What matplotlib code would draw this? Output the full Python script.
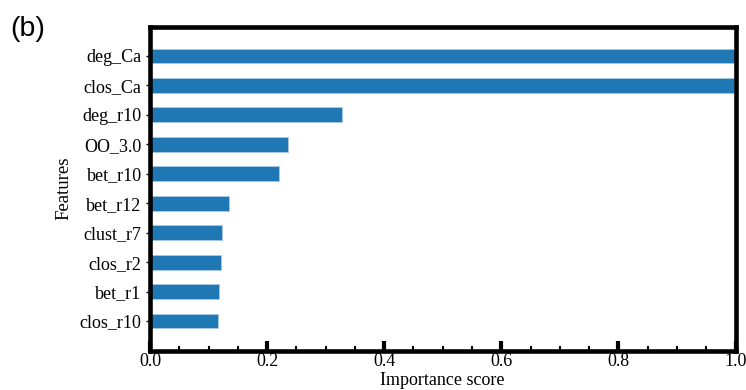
import matplotlib
matplotlib.use('Agg')
import matplotlib.pyplot as plt
import numpy as np
from matplotlib.ticker import MultipleLocator

plt.rcParams['font.family'] = 'Liberation Serif'
plt.rcParams['font.size'] = 13

# features listed top to bottom
features = ['deg_Ca', 'clos_Ca', 'deg_r10', 'OO_3.0', 'bet_r10',
            'bet_r12', 'clust_r7', 'clos_r2', 'bet_r1', 'clos_r10']
scores = [1.0, 0.998, 0.328, 0.236, 0.220, 0.135, 0.123, 0.121, 0.118, 0.116]

fig = plt.figure(figsize=(7.46, 3.9), dpi=100)
ax = fig.add_axes([150/746, 1 - 350.5/390, 585.5/746, 324/390])

ypos = np.arange(len(features))[::-1]
ax.barh(ypos, scores, height=0.5, color='#1f77b4', edgecolor='#a9cbe6', linewidth=0.6)

ax.set_xlim(0, 1.0)
ax.set_ylim(-1, len(features))
ax.set_yticks(ypos)
ax.set_yticklabels(features)
ax.xaxis.set_major_locator(MultipleLocator(0.2))
ax.xaxis.set_minor_locator(MultipleLocator(0.05))

for sp in ax.spines.values():
    sp.set_linewidth(3.3)

ax.tick_params(axis='x', which='major', direction='in', length=7.5, width=3, pad=1.5, labelsize=13)
ax.tick_params(axis='x', which='minor', direction='in', length=3.8, width=1.5)
ax.tick_params(axis='y', which='major', direction='out', length=3, width=1, pad=3, labelsize=13)

ax.set_xlabel('Importance score', fontsize=13, labelpad=2)
ax.set_ylabel('Features', fontsize=13.5, labelpad=5)

fig.text(0.014, 1 - 28.5/390, '(b)', fontsize=20.5, family='Liberation Sans', va='center', ha='left')

fig.savefig('out.png', dpi=100)
